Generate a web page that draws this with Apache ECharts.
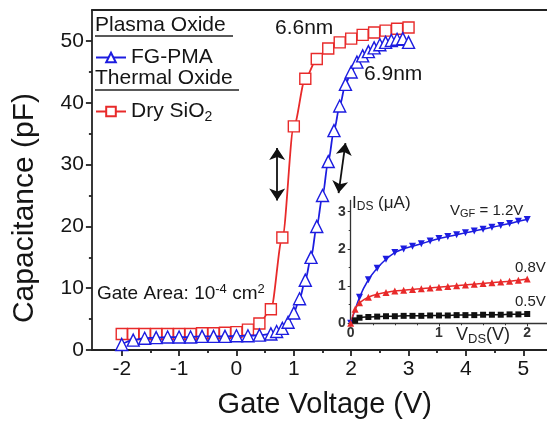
<!DOCTYPE html>
<html><head><meta charset="utf-8">
<script src="https://cdn.jsdelivr.net/npm/echarts@6/dist/echarts.min.js"></script>
<style>html,body{margin:0;padding:0;background:#fff}#c{width:547px;height:421px}</style>
</head><body><div id="c"></div>
<script>
// ---- main chart data ----
const dryX = [-2.0,-1.8,-1.6,-1.4,-1.2,-1.0,-0.8,-0.6,-0.4,-0.2,0.0,0.2,0.4,0.6,0.8,1.0,1.2,1.4,1.6,1.8,2.0,2.2,2.4,2.6,2.8,3.0];
const dryC = [2.6,2.6,2.6,2.6,2.6,2.6,2.6,2.7,2.7,2.8,2.9,3.3,4.3,6.6,18.2,36.2,43.9,47.1,48.8,49.8,50.4,51.0,51.4,51.7,52.0,52.2];
const pmaX = [-2.0,-1.8,-1.6,-1.4,-1.2,-1.0,-0.8,-0.6,-0.4,-0.2,0.0,0.2,0.4,0.6,0.7,0.8,0.9,1.0,1.1,1.2,1.3,1.4,1.5,1.6,1.7,1.8,1.9,2.0,2.1,2.2,2.3,2.4,2.5,2.6,2.7,2.8,2.9,3.0];
const pmaC = [0.9,1.6,1.9,2.0,2.1,2.1,2.1,2.2,2.2,2.2,2.3,2.3,2.4,2.6,3.0,3.5,4.5,6.0,8.3,11.3,15.0,20.0,25.0,30.5,35.5,39.5,43.0,45.0,46.6,47.6,48.3,48.9,49.4,49.8,50.1,50.3,50.4,49.8];
const xMajor = [-2,-1,0,1,2,3,4,5];
const xMinor = [-1.5,-0.5,0.5,1.5,2.5,3.5,4.5];
const yMajor = [0,10,20,30,40,50];
const yMinor = [5,15,25,35,45];
// hysteresis arrows [x1,y1,x2,y2] in data units
const arrows = [[0.71,32.7,0.71,24.2],[1.90,33.5,1.78,25.4]];
// ---- inset data ----
const vds = [0,0.1,0.2,0.3,0.4,0.5,0.6,0.7,0.8,0.9,1.0,1.1,1.2,1.3,1.4,1.5,1.6,1.7,1.8,1.9,2.0];
const ids12 = [0,0.70,1.17,1.48,1.72,1.90,2.00,2.07,2.14,2.21,2.28,2.33,2.38,2.43,2.48,2.53,2.58,2.63,2.68,2.74,2.79];
const vds08 = [0,0.05,0.1,0.2,0.3,0.4,0.5,0.6,0.7,0.8,0.9,1.0,1.1,1.2,1.3,1.4,1.5,1.6,1.7,1.8,1.9,2.0];
const ids08 = [0,0.38,0.55,0.70,0.78,0.83,0.87,0.89,0.91,0.93,0.95,0.97,0.99,1.01,1.03,1.05,1.07,1.09,1.11,1.13,1.16,1.19];
const vds05 = [0.05,0.1,0.2,0.3,0.4,0.5,0.6,0.7,0.8,0.9,1.0,1.1,1.2,1.3,1.4,1.5,1.6,1.7,1.8,1.9,2.0];
const ids05 = [0.08,0.15,0.17,0.18,0.19,0.19,0.20,0.20,0.20,0.21,0.21,0.21,0.22,0.22,0.22,0.23,0.23,0.23,0.24,0.24,0.25];
const inXMajor = [0,1,2];
const inXMinor = [0.25,0.5,0.75,1.25,1.5,1.75];
const inYMajor = [0,1,2,3];
const inYMinor = [0.5,1.5,2.5];

const zip = (a,b) => a.map((v,i)=>[v,b[i]]);
const FONT = 'Liberation Sans';
const RED = '#e82a2a', BLUE = '#1c1ce0', INK = '#151515';

const chart = echarts.init(document.getElementById('c'), null, {renderer:'canvas'});
const mainGrid = {left:91.9, top:10.2, width:465.8, height:339.8, show:false, containLabel:false, outerBoundsMode:'none'};
const insetGrid = {left:350.7, top:200.5, width:203, height:122.8, containLabel:false, outerBoundsMode:'none'};

function axisBase(extra){ return Object.assign({type:'value', splitLine:{show:false}}, extra); }
const AX = {color:'#222', width:1.8};

chart.setOption({
  animation:false,
  textStyle:{fontFamily:FONT},
  grid:[mainGrid, insetGrid],
  xAxis:[
    axisBase({gridIndex:0, min:-2.52, max:5.6, position:'bottom',
      axisLine:{onZero:false, lineStyle:AX},
      axisTick:{customValues:xMajor, length:6, lineStyle:AX},
      axisLabel:{customValues:xMajor, fontSize:21, color:INK, margin:9, fontFamily:FONT},
      name:'Gate Voltage (V)', nameLocation:'middle', nameGap:40,
      nameTextStyle:{fontSize:29, color:INK, fontFamily:FONT}}),
    axisBase({gridIndex:0, min:-2.52, max:5.6, position:'bottom',
      axisLine:{show:false, onZero:false},
      axisTick:{customValues:xMinor, length:3, lineStyle:AX},
      axisLabel:{show:false}}),
    axisBase({gridIndex:1, min:0, max:2.3, position:'bottom',
      axisLine:{onZero:false, lineStyle:{color:'#333', width:1.3}},
      axisTick:{customValues:inXMajor, length:3, lineStyle:{color:'#333'}},
      axisLabel:{customValues:inXMajor, fontSize:14, fontWeight:'bold', color:'#333', margin:3, fontFamily:FONT}}),
    axisBase({gridIndex:1, min:0, max:2.3, position:'bottom',
      axisLine:{show:false, onZero:false},
      axisTick:{customValues:inXMinor, length:2, lineStyle:{color:'#333'}},
      axisLabel:{show:false}}),
    axisBase({gridIndex:0, min:-2.52, max:5.6, position:'top',
      axisLine:{onZero:false, lineStyle:AX},
      axisTick:{show:false}, axisLabel:{show:false}})
  ],
  yAxis:[
    axisBase({gridIndex:0, min:0, max:55, position:'left',
      axisLine:{onZero:false, lineStyle:AX},
      axisTick:{customValues:yMajor, length:6, lineStyle:AX},
      axisLabel:{customValues:yMajor, fontSize:21, color:INK, margin:8, fontFamily:FONT}}),
    axisBase({gridIndex:0, min:0, max:55, position:'left',
      axisLine:{show:false, onZero:false},
      axisTick:{customValues:yMinor, length:3, lineStyle:AX},
      axisLabel:{show:false}}),
    axisBase({gridIndex:1, min:0, max:3.3, position:'left',
      axisLine:{onZero:false, lineStyle:{color:'#333', width:1.3}},
      axisTick:{customValues:inYMajor, length:3, lineStyle:{color:'#333'}},
      axisLabel:{customValues:inYMajor, fontSize:14, fontWeight:'bold', color:'#333', margin:5, fontFamily:FONT}}),
    axisBase({gridIndex:1, min:0, max:3.3, position:'left',
      axisLine:{show:false, onZero:false},
      axisTick:{customValues:inYMinor, length:2, lineStyle:{color:'#333'}},
      axisLabel:{show:false}})
  ],
  legend:[
    {left:95, top:47, padding:0, itemWidth:30, itemHeight:12, itemGap:5, data:['FG-PMA'],
      textStyle:{fontSize:21, color:INK, fontFamily:FONT}},
    {left:95, top:101, padding:0, itemWidth:30, itemHeight:12, data:['Dry SiO2'],
      formatter:()=> 'Dry SiO{s|2}',
      textStyle:{fontSize:21, color:INK, fontFamily:FONT,
        rich:{s:{fontSize:14, verticalAlign:'bottom', padding:[11,0,0,0], color:INK, fontFamily:FONT}}}}
  ],
  graphic:[
    {type:'text', left:95, top:15, style:{text:'Plasma Oxide', fontSize:21, fill:INK, fontFamily:FONT}},
    {type:'line', shape:{x1:95, y1:36, x2:233, y2:36}, style:{stroke:'#222', lineWidth:1.5}},
    {type:'text', left:95, top:68, style:{text:'Thermal Oxide', fontSize:21, fill:INK, fontFamily:FONT}},
    {type:'line', shape:{x1:95, y1:90, x2:239, y2:90}, style:{stroke:'#222', lineWidth:1.5}},
    {type:'text', left:275, top:18, style:{text:'6.6nm', fontSize:21, fill:INK, fontFamily:FONT}},
    {type:'text', left:364, top:64, style:{text:'6.9nm', fontSize:21, fill:INK, fontFamily:FONT}},
    {type:'text', left:97, top:283, style:{text:'Gate Area: 10{p|-4} cm{p|2}', fontSize:19, fill:INK, fontFamily:FONT,
      rich:{p:{fontSize:13, verticalAlign:'top', padding:[0,0,8,0], fill:INK, fontFamily:FONT}}}},
    {type:'text', x:25, y:208, rotation:Math.PI/2, style:{text:'Capacitance (pF)', fontSize:30, fill:INK, fontFamily:FONT, align:'center', verticalAlign:'middle'}},
    // inset texts
    {type:'text', left:352, top:195, style:{text:'I{s|DS} (μA)', fontSize:17, fill:'#222', fontFamily:FONT,
      rich:{s:{fontSize:12, verticalAlign:'bottom', padding:[7,0,0,0], fill:'#222', fontFamily:FONT}}}},
    {type:'text', left:450, top:203, style:{text:'V{s|GF} = 1.2V', fontSize:15, fill:'#222', fontFamily:FONT,
      rich:{s:{fontSize:11, verticalAlign:'bottom', padding:[7,0,0,0], fill:'#222', fontFamily:FONT}}}},
    {type:'text', left:515, top:260, style:{text:'0.8V', fontSize:15, fill:'#222', fontFamily:FONT}},
    {type:'text', left:515, top:294, style:{text:'0.5V', fontSize:15, fill:'#222', fontFamily:FONT}},
    {type:'text', left:456, top:326, style:{text:'V{s|DS}(V)', fontSize:18, fill:'#222', fontFamily:FONT,
      rich:{s:{fontSize:13, verticalAlign:'bottom', padding:[8,0,0,0], fill:'#222', fontFamily:FONT}}}}
  ],
  series:[
    {name:'Dry SiO2', type:'line', xAxisIndex:0, yAxisIndex:0, data:zip(dryX,dryC),
      smooth:0.3, smoothMonotone:'x', symbol:'rect', symbolSize:11, z:3,
      lineStyle:{color:RED, width:1.8}, itemStyle:{color:'#fff', borderColor:RED, borderWidth:1.4}},
    {name:'FG-PMA', type:'line', xAxisIndex:0, yAxisIndex:0, data:zip(pmaX,pmaC),
      smooth:0.3, smoothMonotone:'x', symbol:'triangle', symbolSize:12, z:4,
      lineStyle:{color:BLUE, width:1.8}, itemStyle:{color:'#fff', borderColor:BLUE, borderWidth:1.4}},
    {type:'lines', coordinateSystem:'cartesian2d', xAxisIndex:0, yAxisIndex:0, z:5,
      symbol:['arrow','arrow'], symbolSize:12,
      lineStyle:{color:'#111', width:1.8, opacity:1},
      data:arrows.map(a=>({coords:[[a[0],a[1]],[a[2],a[3]]]}))},
    {name:'1.2V', type:'line', xAxisIndex:2, yAxisIndex:2, data:zip(vds,ids12), smooth:0.3,
      symbol:'triangle', symbolRotate:180, symbolSize:7, showSymbol:true,
      lineStyle:{color:BLUE, width:1.5}, itemStyle:{color:BLUE}},
    {name:'0.8V', type:'line', xAxisIndex:2, yAxisIndex:2, data:zip(vds08,ids08), smooth:0.3,
      symbol:'triangle', symbolSize:7,
      lineStyle:{color:RED, width:1.5}, itemStyle:{color:RED}},
    {name:'0.5V', type:'line', xAxisIndex:2, yAxisIndex:2, data:zip(vds05,ids05), smooth:0.3,
      symbol:'rect', symbolSize:6,
      lineStyle:{color:'#111', width:1.5}, itemStyle:{color:'#111'}}
  ]
});
</script></body></html>
